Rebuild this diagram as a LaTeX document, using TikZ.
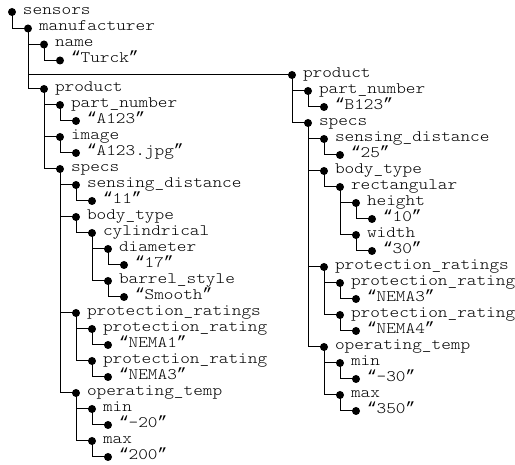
\documentclass[tikz,border=0pt]{standalone}
\usepackage{fontspec}
\newfontfamily\qfont{Liberation Mono}
\newfontfamily\lmm{lmmonolt10-regular.otf}[FakeStretch=1.15]
\newcommand\qL{{\qfont\fontsize{16.1}{19}\selectfont “}}
\newcommand\qR{{\qfont\fontsize{16.1}{19}\selectfont ”}}
\tikzset{
  dot/.style={circle, fill=black, inner sep=0pt, minimum size=8pt},
  txt/.style={anchor=mid west, inner sep=0pt, text height=7pt, text depth=1pt,
    font=\lmm\fontsize{16}{19}\selectfont},
  edge/.style={draw=black, line width=1pt}
}
\newcommand\mknode[4]{%
  \node[dot] (#1) at (#2,#3) {};
  \node[txt] (#1t) at ([xshift=10.8pt]#1.center) {#4};}
\begin{document}
\begin{tikzpicture}[x=1pt,y=-1pt]
\useasboundingbox (0,0) rectangle (515,465);
% left column
\mknode{s}{12}{12}{sensors}
\mknode{m}{28}{28.5}{manufacturer}
\mknode{nm}{44}{44.5}{name}
\mknode{tu}{60}{60.5}{\qL Turck\qR}
\mknode{pa}{44}{89}{product}
\mknode{pna}{60}{105}{part\_number}
\mknode{pnav}{76}{121}{\qL A123\qR}
\mknode{im}{60}{137}{image}
\mknode{imv}{76}{153}{\qL A123.jpg\qR}
\mknode{spa}{60}{169}{specs}
\mknode{sda}{76}{185}{sensing\_distance}
\mknode{sdav}{92}{201}{\qL 11\qR}
\mknode{bta}{76}{217}{body\_type}
\mknode{cy}{92}{233}{cylindrical}
\mknode{di}{108}{249}{diameter}
\mknode{div}{124}{265}{\qL 17\qR}
\mknode{bs}{108}{281}{barrel\_style}
\mknode{bsv}{124}{297}{\qL Smooth\qR}
\mknode{pra}{76}{313}{protection\_ratings}
\mknode{pra1}{92}{329}{protection\_rating}
\mknode{pra1v}{108}{345}{\qL NEMA1\qR}
\mknode{pra2}{92}{361}{protection\_rating}
\mknode{pra2v}{108}{377}{\qL NEMA3\qR}
\mknode{ota}{76}{393}{operating\_temp}
\mknode{mina}{92}{409}{min}
\mknode{minav}{108}{425}{\qL -20\qR}
\mknode{maxa}{92}{441}{max}
\mknode{maxav}{108}{457}{\qL 200\qR}
% right column
\mknode{pb}{292}{75}{product}
\mknode{pnb}{308}{91}{part\_number}
\mknode{pnbv}{324}{107}{\qL B123\qR}
\mknode{spb}{308}{123}{specs}
\mknode{sdb}{324}{139}{sensing\_distance}
\mknode{sdbv}{340}{155}{\qL 25\qR}
\mknode{btb}{324}{171}{body\_type}
\mknode{re}{340}{187}{rectangular}
\mknode{he}{356}{203}{height}
\mknode{hev}{372}{219}{\qL 10\qR}
\mknode{wi}{356}{235}{width}
\mknode{wiv}{372}{251}{\qL 30\qR}
\mknode{prb}{324}{267}{protection\_ratings}
\mknode{prb1}{340}{283}{protection\_rating}
\mknode{prb1v}{356}{299}{\qL NEMA3\qR}
\mknode{prb2}{340}{315}{protection\_rating}
\mknode{prb2v}{356}{331}{\qL NEMA4\qR}
\mknode{otb}{324}{347}{operating\_temp}
\mknode{minb}{340}{363}{min}
\mknode{minbv}{356}{379}{\qL -30\qR}
\mknode{maxb}{340}{395}{max}
\mknode{maxbv}{356}{411}{\qL 350\qR}
% connectors
\foreach \p/\c in {s/m, m/nm, nm/tu, m/pa, m/pb,
  pa/pna, pna/pnav, pa/im, im/imv, pa/spa,
  spa/sda, sda/sdav, spa/bta, bta/cy, cy/di, di/div, cy/bs, bs/bsv,
  spa/pra, pra/pra1, pra1/pra1v, pra/pra2, pra2/pra2v,
  spa/ota, ota/mina, mina/minav, ota/maxa, maxa/maxav,
  pb/pnb, pnb/pnbv, pb/spb, spb/sdb, sdb/sdbv, spb/btb, btb/re,
  re/he, he/hev, re/wi, wi/wiv, spb/prb, prb/prb1, prb1/prb1v,
  prb/prb2, prb2/prb2v, spb/otb, otb/minb, minb/minbv, otb/maxb, maxb/maxbv}
  \draw[edge] (\p.center) |- (\c.center);
\end{tikzpicture}
\end{document}
